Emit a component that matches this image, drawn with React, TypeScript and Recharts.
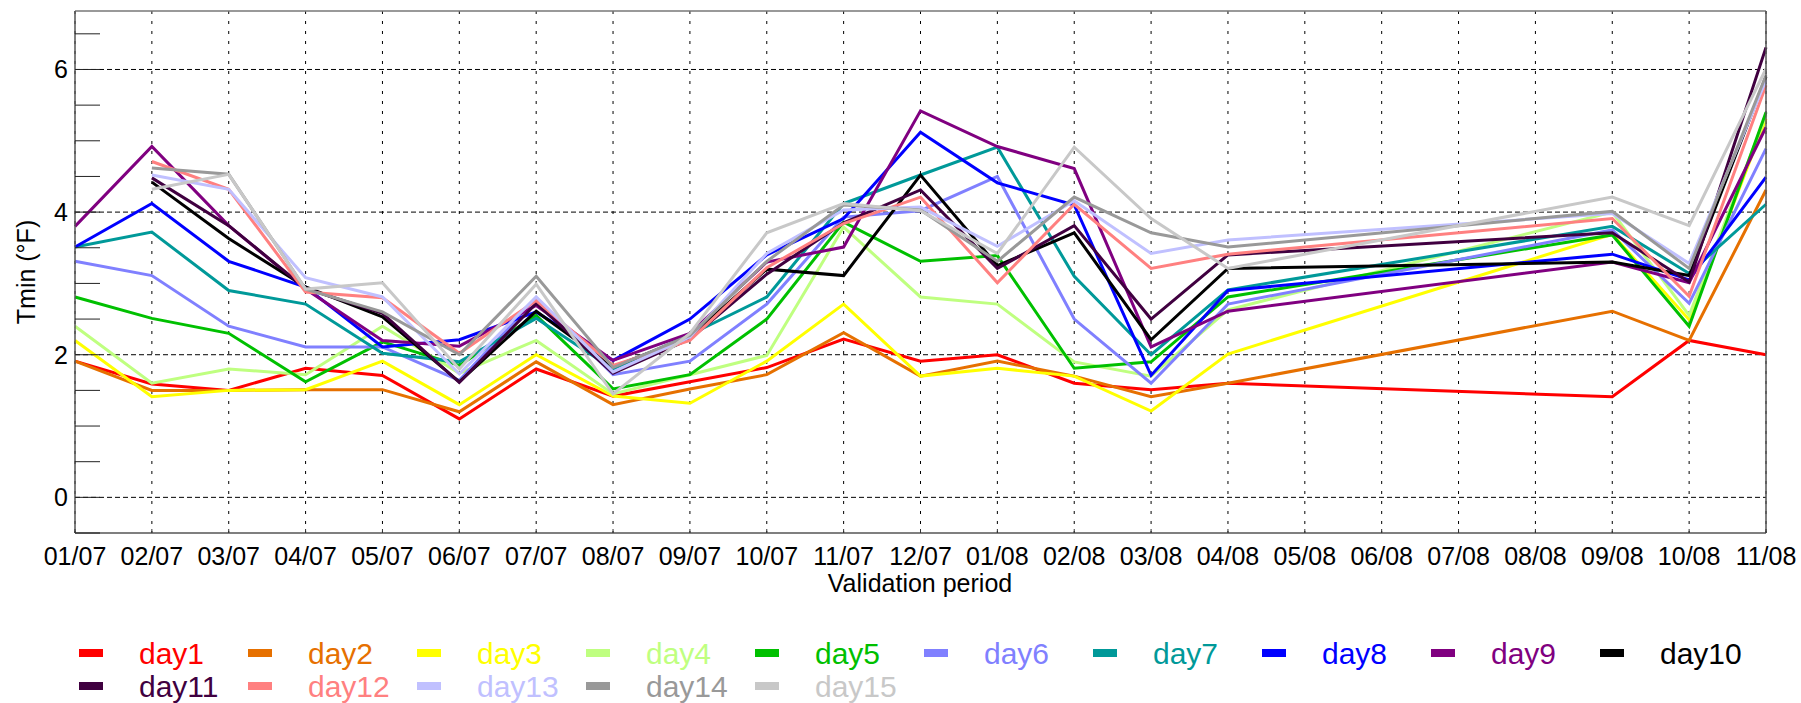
import React from 'react';
import { LineChart, Line, XAxis, YAxis, CartesianGrid, ReferenceLine, Label } from 'recharts';

const categories = [
  '01/07', '02/07', '03/07', '04/07', '05/07', '06/07', '07/07', '08/07', '09/07', '10/07', '11/07', '12/07',
  '01/08', '02/08', '03/08', '04/08', '05/08', '06/08', '07/08', '08/08', '09/08', '10/08', '11/08',
];

const day1 = [1.91, 1.59, 1.5, 1.81, 1.71, 1.1, 1.8, 1.42, 1.62, 1.82, 2.22, 1.91, 2.0, 1.6, 1.51, 1.6, null, null, null, null, 1.41, 2.2, 2.0];
const day2 = [1.91, 1.5, 1.5, 1.51, 1.51, 1.2, 1.9, 1.3, 1.52, 1.72, 2.31, 1.7, 1.91, 1.7, 1.41, 1.6, null, null, null, null, 2.61, 2.2, 4.31];
const day3 = [2.2, 1.41, 1.5, 1.51, 1.91, 1.3, 2.0, 1.42, 1.32, 1.91, 2.71, 1.7, 1.81, 1.7, 1.21, 2.01, null, null, null, null, 3.69, 2.49, 5.31];
const day4 = [2.4, 1.6, 1.8, 1.72, 2.4, 1.74, 2.2, 1.45, 1.72, 1.99, 3.79, 2.81, 2.71, 1.9, 1.7, 2.63, null, null, null, null, 4.0, 2.55, 5.36];
const day5 = [2.81, 2.51, 2.3, 1.62, 2.18, 1.85, 2.55, 1.52, 1.72, 2.5, 3.86, 3.31, 3.39, 1.81, 1.9, 2.81, null, null, null, null, 3.68, 2.4, 5.4];
const day6 = [3.31, 3.11, 2.4, 2.11, 2.11, 1.64, 2.79, 1.72, 1.91, 2.71, 3.93, 4.02, 4.5, 2.5, 1.6, 2.71, null, null, null, null, 3.75, 2.72, 4.89];
const day7 = [3.51, 3.72, 2.9, 2.71, 2.02, 1.9, 2.51, 1.8, 2.28, 2.81, 4.12, 4.52, 4.91, 3.1, 2.0, 2.91, null, null, null, null, 3.8, 3.14, 4.11];
const day8 = [3.51, 4.12, 3.31, 2.95, 2.11, 2.21, 2.6, 1.92, 2.5, 3.4, 3.91, 5.12, 4.41, 4.1, 1.71, 2.9, null, null, null, null, 3.41, 3.05, 4.49];
const day9 = [3.8, 4.92, 3.81, 2.92, 2.2, 2.12, 2.69, 1.92, 2.3, 3.3, 3.51, 5.42, 4.92, 4.61, 2.11, 2.61, null, null, null, null, 3.3, 3.01, 5.19];
const day10 = [null, 4.42, 3.63, 2.95, 2.53, 1.62, 2.61, 1.83, 2.25, 3.2, 3.11, 4.52, 3.25, 3.71, 2.21, 3.21, null, null, null, null, 3.3, 3.11, 5.9];
const day11 = [null, 4.48, 3.81, 2.93, 2.58, 1.61, 2.72, 1.74, 2.22, 3.13, 3.85, 4.31, 3.21, 3.81, 2.5, 3.4, null, null, null, null, 3.71, 3.02, 6.31];
const day12 = [null, 4.71, 4.32, 2.88, 2.8, 2.02, 2.76, 1.85, 2.2, 3.22, 3.84, 4.21, 3.01, 4.11, 3.21, 3.41, null, null, null, null, 3.91, 2.82, 5.78];
const day13 = [null, 4.52, 4.32, 3.08, 2.81, 1.73, 2.81, 1.76, 2.25, 3.42, 4.03, 4.07, 3.52, 4.16, 3.42, 3.61, null, null, null, null, 3.98, 3.28, 5.85];
const day14 = [null, 4.62, 4.53, 2.92, 2.6, 2.0, 3.1, 1.82, 2.27, 3.31, 4.1, 4.03, 3.31, 4.21, 3.71, 3.51, null, null, null, null, 4.01, 3.21, 5.92];
const day15 = [null, 4.32, 4.53, 2.92, 3.01, 1.8, 2.99, 1.45, 2.3, 3.71, 4.12, 4.02, 3.42, 4.91, 3.91, 3.21, null, null, null, null, 4.21, 3.81, 6.01];

const seriesNames = ['day1', 'day2', 'day3', 'day4', 'day5', 'day6', 'day7', 'day8', 'day9', 'day10', 'day11', 'day12', 'day13', 'day14', 'day15'];
const seriesValues = [day1, day2, day3, day4, day5, day6, day7, day8, day9, day10, day11, day12, day13, day14, day15];
const seriesColors = [
  '#ff0000', '#e67000', '#ffff00', '#bfff80', '#00c000', '#8080ff', '#009999', '#0000ff',
  '#800080', '#000000', '#400040', '#ff8080', '#c0c0ff', '#999999', '#c8c8c8',
];

const yTicks = [-0.5, 0, 0.5, 1, 1.5, 2, 2.5, 3, 3.5, 4, 4.5, 5, 5.5, 6, 6.5];
const yLabelled = [0, 2, 4, 6];

const data = categories.map((date, i) => {
  const row: Record<string, any> = { date };
  seriesNames.forEach((name, s) => {
    row[name] = seriesValues[s][i];
  });
  return row;
});

const FONT = '"Liberation Sans", Arial, sans-serif';

const XTick = (props: any) => {
  const { x, y, payload } = props;
  return (
    <g>
      <line x1={x} x2={x} y1={y} y2={y - 4} stroke="#333" />
      <text x={x} y={y + 32} textAnchor="middle" fontSize={25} fontFamily={FONT} fill="#000">
        {payload.value}
      </text>
    </g>
  );
};

const LeftTick = (props: any) => {
  const { x, y, payload } = props;
  const axisX = x + 7;
  return (
    <g>
      <line x1={axisX} x2={axisX + 25} y1={y} y2={y} stroke="#222" />
      {yLabelled.includes(payload.value) && (
        <text x={x} y={y + 9} textAnchor="end" fontSize={25} fontFamily={FONT} fill="#000">
          {payload.value}
        </text>
      )}
    </g>
  );
};

const RightTick = (props: any) => {
  const { x, y } = props;
  return <line x1={x - 25} x2={x} y1={y} y2={y} stroke="#222" />;
};

const Legend15 = () => (
  <svg width={1801} height={703} style={{ position: 'absolute', left: 0, top: 0, pointerEvents: 'none' }}>
    {seriesNames.map((name, k) => {
      const row = Math.floor(k / 10);
      const col = k % 10;
      return (
        <g key={name}>
          <rect x={79 + col * 169} y={649 + row * 33} width={24} height={8} fill={seriesColors[k]} />
          <text x={139 + col * 169} y={664 + row * 32.5} fontSize={30} fontFamily={FONT} fill={seriesColors[k]}>
            {name}
          </text>
        </g>
      );
    })}
  </svg>
);

const App = () => {
  return (
    <div style={{ position: 'absolute', left: 0, top: 0, width: 1801, height: 703, background: '#fff' }}>
      <LineChart width={1801} height={703} data={data} margin={{ top: 11, right: 0, left: 0, bottom: 0 }}>
        <CartesianGrid horizontal={false} vertical={true} stroke="#000" strokeDasharray="3 7" />
        <XAxis
          dataKey="date"
          interval={0}
          height={170}
          tickSize={0}
          tickMargin={0}
          tickLine={false}
          tick={<XTick />}
          axisLine={{ stroke: '#555', strokeWidth: 1.5 }}
        >
          <Label
            content={() => (
              <text x={920} y={592} textAnchor="middle" fontSize={25} fontFamily={FONT} fill="#000">
                Validation period
              </text>
            )}
          />
        </XAxis>
        <YAxis
          type="number"
          domain={[-0.5, 6.82]}
          ticks={yTicks}
          interval={0}
          width={75}
          tickSize={0}
          tickMargin={7}
          tickLine={false}
          tick={<LeftTick />}
          axisLine={{ stroke: '#555', strokeWidth: 1.5 }}
        >
          <Label
            content={() => (
              <text x={35} y={272} transform="rotate(-90 35 272)" textAnchor="middle" fontSize={25} fontFamily={FONT} fill="#000">
                Tmin (°F)
              </text>
            )}
          />
        </YAxis>
        <YAxis
          yAxisId="r"
          orientation="right"
          type="number"
          domain={[-0.5, 6.82]}
          ticks={yTicks}
          interval={0}
          width={35}
          tickSize={0}
          tickMargin={0}
          tickLine={false}
          tick={<RightTick />}
          axisLine={{ stroke: '#555', strokeWidth: 1.5 }}
        />
        {yLabelled.map((v) => (
          <ReferenceLine key={v} y={v} stroke="#000" strokeDasharray="5 3" />
        ))}
        <ReferenceLine y={6.82} stroke="#777" strokeWidth={1.5} />
        {seriesNames.map((name, k) => (
          <Line
            key={name}
            type="linear"
            dataKey={name}
            stroke={seriesColors[k]}
            strokeWidth={3}
            dot={false}
            activeDot={false}
            connectNulls
            isAnimationActive={false}
          />
        ))}
      </LineChart>
      <Legend15 />
    </div>
  );
};

export default App;
